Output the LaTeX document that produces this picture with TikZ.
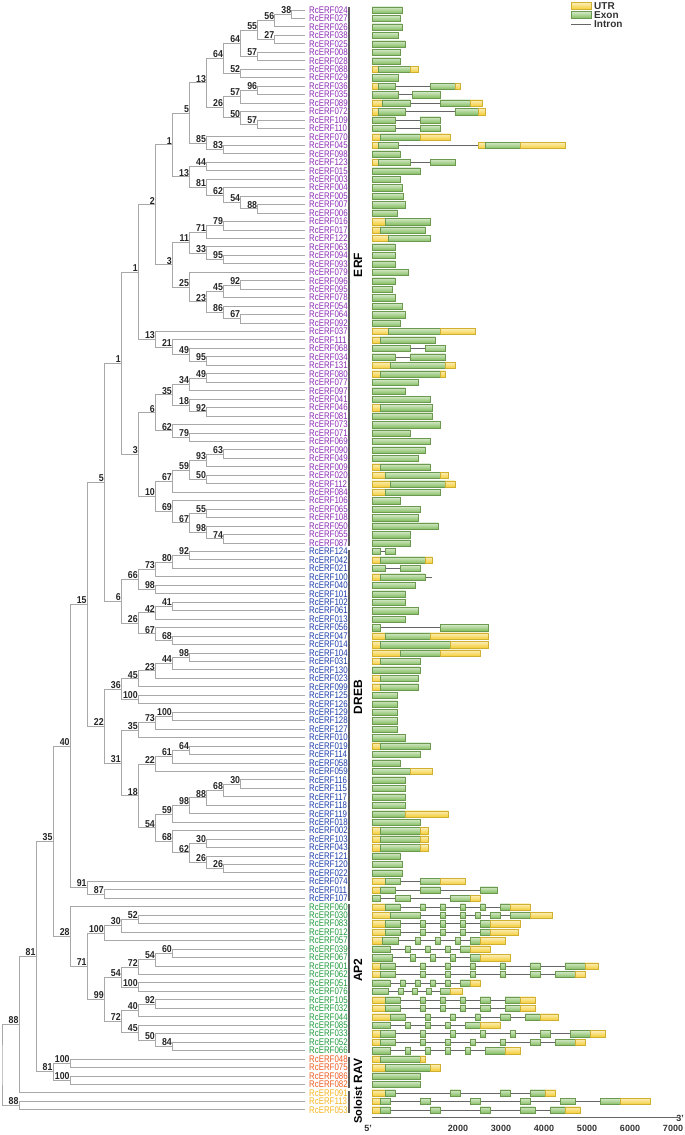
\documentclass[tikz,border=0pt]{standalone}
\usepackage{fontspec}
\setmainfont{Liberation Sans}
\usetikzlibrary{calc}

\definecolor{erfc}{HTML}{8B2BB5}
\definecolor{drebc}{HTML}{1C3DAA}
\definecolor{ap2c}{HTML}{1E9A3A}
\definecolor{ravc}{HTML}{EE5A1E}
\definecolor{solc}{HTML}{F5B41E}
\definecolor{brc}{HTML}{A8A8A8}
\definecolor{utrc}{HTML}{F5CF3A}
\definecolor{exonc}{HTML}{86BF63}

\newcommand\lf[3]{%
  \coordinate (a#1) at (305,{10+8.46*#1});
  \node[leaf,text=#3] (l#1) at (309,{10+8.46*#1}) {RcERF#2};}
\newcommand\tn[5]{%
  \coordinate (tmp) at ($(#3)!0.5!(#4)$);
  \coordinate (#1) at (tmp -| x#2);
  \draw[br] (#3) -| (#1) |- (#4);
  \node[bs] (b#1) at (#1) {#5};}
\newcommand\gn[3]{%
  \draw[intr] (372,{10+8.46*#1}) -- (#2,{10+8.46*#1});
  \foreach \t/\p/\q in {#3} {\path[\t] (\p,{10+8.46*#1-3.1}) rectangle (\q,{10+8.46*#1+3.1});}}

\begin{document}
\begin{tikzpicture}[x=1pt,y=-1pt,
  br/.style={draw=brc,line width=0.9pt},
  bs/.style={anchor=south east,inner sep=0.5pt,xscale=0.88,font=\fontsize{10}{10}\selectfont\bfseries,text=black!85},
  leaf/.style={anchor=west,inner sep=0pt,xscale=0.82,font=\fontsize{9.6}{9.6}\selectfont},
  clade/.style={rotate=90,inner sep=0pt,font=\fontsize{12}{12}\selectfont\bfseries},
  bar/.style={draw=black!65,line width=2.6pt},
  lg/.style={anchor=west,inner sep=0pt,font=\fontsize{10}{10}\selectfont\bfseries,text=black!80},
  ax/.style={inner sep=0pt,font=\fontsize{9}{9}\selectfont\bfseries,text=black!80},
  U/.style={top color=utrc!35,bottom color=utrc,draw=utrc!85!black,line width=0.2pt},
  E/.style={top color=exonc!35,bottom color=exonc,draw=exonc!80!black,line width=0.2pt},
  intr/.style={draw=black!60,line width=0.5pt}]
\useasboundingbox (0,0) rectangle (685,1135);

\foreach \k in {0,...,17} \coordinate (x\k) at ({2+17.05*\k},0);

\foreach \nm [count=\i from 0] in {024,027,026,038,025,008,028,088,029,036,035,089,072,109,110,070,045,098,123,015,003,004,005,007,006,016,017,122,063,094,093,079,096,095,078,054,064,092,037,111,068,034,131,080,077,097,041,046,081,073,071,069,090,049,009,020,112,084,106,065,108,050,055,087}
  {\lf{\i}{\nm}{erfc}}
\foreach \nm [count=\i from 64] in {124,042,021,100,040,101,102,061,013,056,047,014,104,031,130,023,099,125,126,129,128,127,010,019,114,058,059,116,115,117,118,119,018,002,103,043,121,120,022,074,011,107}
  {\lf{\i}{\nm}{drebc}}
\foreach \nm [count=\i from 106] in {060,030,083,012,057,039,067,001,062,051,076,105,032,044,085,033,052,066}
  {\lf{\i}{\nm}{ap2c}}
\foreach \nm [count=\i from 124] in {048,075,086,082}
  {\lf{\i}{\nm}{ravc}}
\foreach \nm [count=\i from 128] in {091,113,053}
  {\lf{\i}{\nm}{solc}}

\tn{n38}{17}{a0}{a1}{38}
\tn{n56}{16}{n38}{a2}{56}
\tn{n27}{16}{a3}{a4}{27}
\tn{n55}{15}{n56}{n27}{55}
\tn{n57a}{15}{a5}{a6}{57}
\tn{n64a}{14}{n55}{n57a}{64}
\tn{n52}{14}{a7}{a8}{52}
\tn{n64b}{13}{n64a}{n52}{64}
\tn{n96}{15}{a9}{a10}{96}
\tn{n57b}{14}{n96}{a11}{57}
\tn{n57c}{15}{a13}{a14}{57}
\tn{n50}{14}{a12}{n57c}{50}
\tn{n26}{13}{n57b}{n50}{26}
\tn{n13a}{12}{n64b}{n26}{13}
\tn{n83}{13}{a16}{a17}{83}
\tn{n85}{12}{a15}{n83}{85}
\tn{n5a}{11}{n13a}{n85}{5}
\tn{n44}{12}{a18}{a19}{44}
\tn{n88a}{15}{a23}{a24}{88}
\tn{n54a}{14}{a22}{n88a}{54}
\tn{n62a}{13}{a21}{n54a}{62}
\tn{n81a}{12}{a20}{n62a}{81}
\tn{n13b}{11}{n44}{n81a}{13}
\tn{n1a}{10}{n5a}{n13b}{1}
\tn{n79a}{13}{a25}{a26}{79}
\tn{n71}{12}{n79a}{a27}{71}
\tn{n95a}{13}{a29}{a30}{95}
\tn{n33}{12}{a28}{n95a}{33}
\tn{n11}{11}{n71}{n33}{11}
\tn{n92a}{14}{a32}{a33}{92}
\tn{n45a}{13}{n92a}{a34}{45}
\tn{n67a}{14}{a36}{a37}{67}
\tn{n86}{13}{a35}{n67a}{86}
\tn{n23a}{12}{n45a}{n86}{23}
\tn{n25}{11}{a31}{n23a}{25}
\tn{n3a}{10}{n11}{n25}{3}
\tn{n2}{9}{n1a}{n3a}{2}
\tn{n95b}{12}{a41}{a42}{95}
\tn{n49a}{11}{a40}{n95b}{49}
\tn{n21}{10}{a39}{n49a}{21}
\tn{n13c}{9}{a38}{n21}{13}
\tn{n1b}{8}{n2}{n13c}{1}
\tn{n49b}{12}{a43}{a44}{49}
\tn{n34}{11}{n49b}{a45}{34}
\tn{n92b}{12}{a47}{a48}{92}
\tn{n18a}{11}{a46}{n92b}{18}
\tn{n35a}{10}{n34}{n18a}{35}
\tn{n79b}{11}{a50}{a51}{79}
\tn{n62b}{10}{a49}{n79b}{62}
\tn{n6a}{9}{n35a}{n62b}{6}
\tn{n63}{13}{a52}{a53}{63}
\tn{n93}{12}{n63}{a54}{93}
\tn{n50b}{12}{a55}{a56}{50}
\tn{n59a}{11}{n93}{n50b}{59}
\tn{n67b}{10}{n59a}{a57}{67}
\tn{n55b}{12}{a59}{a60}{55}
\tn{n74}{13}{a62}{a63}{74}
\tn{n98a}{12}{a61}{n74}{98}
\tn{n67c}{11}{n55b}{n98a}{67}
\tn{n69}{10}{a58}{n67c}{69}
\tn{n10}{9}{n67b}{n69}{10}
\tn{n3b}{8}{n6a}{n10}{3}
\tn{n1c}{7}{n1b}{n3b}{1}

\tn{n92c}{11}{a64}{a65}{92}
\tn{n80}{10}{n92c}{a66}{80}
\tn{n73a}{9}{n80}{a67}{73}
\tn{n98b}{9}{a68}{a69}{98}
\tn{n66}{8}{n73a}{n98b}{66}
\tn{n41}{10}{a70}{a71}{41}
\tn{n42}{9}{n41}{a72}{42}
\tn{n68a}{10}{a74}{a75}{68}
\tn{n67d}{9}{a73}{n68a}{67}
\tn{n26b}{8}{n42}{n67d}{26}
\tn{n6b}{7}{n66}{n26b}{6}
\tn{n5}{6}{n1c}{n6b}{5}
\tn{n98c}{11}{a76}{a77}{98}
\tn{n44b}{10}{n98c}{a78}{44}
\tn{n23b}{9}{n44b}{a79}{23}
\tn{n45b}{8}{n23b}{a80}{45}
\tn{n100a}{8}{a81}{a82}{100}
\tn{n36}{7}{n45b}{n100a}{36}
\tn{n100b}{10}{a83}{a84}{100}
\tn{n73b}{9}{n100b}{a85}{73}
\tn{n35b}{8}{n73b}{a86}{35}
\tn{n64c}{11}{a87}{a88}{64}
\tn{n61}{10}{n64c}{a89}{61}
\tn{n22b}{9}{n61}{a90}{22}
\tn{n30a}{14}{a91}{a92}{30}
\tn{n68b}{13}{n30a}{a93}{68}
\tn{n88b}{12}{n68b}{a94}{88}
\tn{n98d}{11}{n88b}{a95}{98}
\tn{n59b}{10}{n98d}{a96}{59}
\tn{n30b}{12}{a98}{a99}{30}
\tn{n26c}{13}{a101}{a102}{26}
\tn{n26d}{12}{a100}{n26c}{26}
\tn{n62c}{11}{n30b}{n26d}{62}
\tn{n68c}{10}{a97}{n62c}{68}
\tn{n54b}{9}{n59b}{n68c}{54}
\tn{n18b}{8}{n22b}{n54b}{18}
\tn{n31}{7}{n35b}{n18b}{31}
\tn{n22a}{6}{n36}{n31}{22}
\tn{n15}{5}{n5}{n22a}{15}
\tn{n87}{6}{a104}{a105}{87}
\tn{n91}{5}{a103}{n87}{91}
\tn{n40}{4}{n15}{n91}{40}

\tn{n52b}{8}{a107}{a108}{52}
\tn{n30c}{7}{n52b}{a109}{30}
\tn{n100c}{6}{n30c}{a110}{100}
\tn{n60}{10}{a111}{a112}{60}
\tn{n54c}{9}{n60}{a113}{54}
\tn{n72a}{8}{n54c}{a114}{72}
\tn{n100d}{8}{a115}{a116}{100}
\tn{n54d}{7}{n72a}{n100d}{54}
\tn{n92d}{9}{a117}{a118}{92}
\tn{n40b}{8}{n92d}{a119}{40}
\tn{n84}{10}{a122}{a123}{84}
\tn{n50c}{9}{a121}{n84}{50}
\tn{n45c}{8}{a120}{n50c}{45}
\tn{n72b}{7}{n40b}{n45c}{72}
\tn{n99}{6}{n54d}{n72b}{99}
\tn{n71b}{5}{n100c}{n99}{71}
\tn{n28}{4}{a106}{n71b}{28}
\tn{n35c}{3}{n40}{n28}{35}
\tn{n100e}{4}{a124}{a125}{100}
\tn{n100f}{4}{a126}{a127}{100}
\tn{n81b}{3}{n100e}{n100f}{81}
\tn{n81c}{2}{n35c}{n81b}{81}
\tn{n88c}{1}{n81c}{a128}{88}
\tn{n88d}{1}{a129}{a130}{88}
\tn{n0}{0}{n88c}{n88d}{}

\draw[bar] (349,7) -- (349,546);
\draw[bar] (349,550) -- (349,901);
\draw[bar] (349,904) -- (349,1053);
\draw[bar] (349,1057) -- (349,1088);
\draw[bar] (349,1091) -- (349,1113);
\node[clade] (cerf) at (358,265) {ERF};
\node[clade] (cdreb) at (358,697) {DREB};
\node[clade] (cap2) at (358,970) {AP2};
\node[clade] (crav) at (358,1071) {RAV};
\node[clade,font=\fontsize{11}{11}\selectfont\bfseries] (csol) at (358,1105) {Soloist};

\foreach \i/\n in {0/402,1/400,2/402,3/398,4/405,5/400,6/400,8/398,17/400,19/420,20/400,21/402,22/403,23/405,24/397,28/395,29/395,30/395,31/408,32/395,33/392,34/395,35/402,36/405,37/400,44/418,45/405,46/430,48/432,49/440,50/410,51/430,52/425,53/418,58/400,59/420,60/418,61/438,62/410,63/410,68/415,69/405,70/405,71/418,72/405,78/420,81/397,82/397,83/397,84/397,85/397,86/405,88/420,89/400,91/405,92/405,93/405,94/405,96/420,100/400,101/402,102/402}
  {\gn{\i}{\n}{E/372/\n}}
\gn{7}{418}{U/372/378,E/378/410,U/410/418}
\gn{9}{460}{U/372/378,E/378/395,E/430/455,U/455/460}
\gn{10}{440}{E/372/398,E/412/440}
\gn{11}{482}{U/372/382,E/382/410,E/440/470,U/470/482}
\gn{12}{485}{U/372/378,E/378/405,E/455/478,U/478/485}
\gn{13}{440}{E/372/395,E/420/440}
\gn{14}{440}{E/372/395,E/420/440}
\gn{15}{450}{U/372/380,E/380/420,U/420/450}
\gn{16}{565}{U/372/378,E/378/398,U/478/485,E/485/520,U/520/565}
\gn{18}{455}{U/372/378,E/378/410,E/430/455}
\gn{25}{430}{U/372/385,E/385/430}
\gn{26}{425}{U/372/380,E/380/425}
\gn{27}{430}{U/372/388,E/388/430}
\gn{38}{475}{U/372/388,E/388/440,U/440/475}
\gn{39}{435}{U/372/380,E/380/435}
\gn{40}{445}{E/372/410,E/425/445}
\gn{41}{445}{E/372/395,E/410/445}
\gn{42}{455}{U/372/390,E/390/445,U/445/455}
\gn{43}{445}{U/372/380,E/380/440,U/440/445}
\gn{47}{432}{U/372/380,E/380/432}
\gn{54}{430}{U/372/380,E/380/430}
\gn{55}{448}{U/372/385,E/385/440,U/440/448}
\gn{56}{455}{U/372/390,E/390/445,U/445/455}
\gn{57}{440}{U/372/385,E/385/440}
\gn{64}{395}{E/372/380,E/385/395}
\gn{65}{432}{U/372/380,E/380/425,U/425/432}
\gn{66}{420}{E/372/385,E/400/420}
\gn{67}{432}{U/372/380,E/380/425}
\gn{73}{488}{E/372/380,E/440/488}
\gn{74}{488}{U/372/385,E/385/430,U/430/488}
\gn{75}{488}{U/372/380,E/380/450,U/450/488}
\gn{76}{480}{U/372/400,E/400/440,U/440/480}
\gn{77}{420}{U/372/380,E/380/420}
\gn{79}{418}{U/372/380,E/380/418}
\gn{80}{418}{U/372/380,E/380/418}
\gn{87}{430}{U/372/380,E/380/430}
\gn{90}{432}{E/372/410,U/410/432}
\gn{95}{448}{E/372/405,U/405/448}
\gn{97}{428}{U/372/380,E/380/420,U/420/428}
\gn{98}{428}{U/372/380,E/380/420,U/420/428}
\gn{99}{428}{U/372/380,E/380/420,U/420/428}
\gn{103}{465}{U/372/385,E/385/400,E/420/440,U/440/465}
\gn{104}{497}{U/372/380,E/380/395,E/420/440,E/480/497}
\gn{105}{480}{E/372/380,E/395/410,E/450/470,U/470/480}
\gn{106}{530}{U/372/385,E/385/400,E/420/425,E/440/445,E/460/465,E/480/485,E/500/510,U/510/530}
\gn{107}{552}{U/372/390,E/390/420,E/440/445,E/460/465,E/475/480,E/490/500,E/510/530,U/530/552}
\gn{108}{520}{U/372/385,E/385/400,E/420/425,E/440/445,E/460/465,E/480/490,U/490/520}
\gn{109}{518}{U/372/385,E/385/400,E/420/425,E/440/445,E/460/465,E/480/490,U/490/518}
\gn{110}{505}{U/372/382,E/382/398,E/415/420,E/435/440,E/455/460,E/470/480,U/480/505}
\gn{111}{490}{E/372/390,E/405/410,E/425/430,E/445/450,E/460/470,U/470/490}
\gn{112}{510}{E/372/392,E/410/415,E/430/435,E/450/455,E/470/480,U/480/510}
\gn{113}{598}{U/372/380,E/380/395,E/420/425,E/445/450,E/470/475,E/500/505,E/530/540,E/565/585,U/585/598}
\gn{114}{585}{U/372/380,E/380/395,E/420/425,E/445/450,E/470/475,E/500/505,E/530/540,E/555/575,U/575/585}
\gn{115}{480}{E/372/390,E/400/405,E/415/420,E/430/435,E/445/450,E/460/470,U/470/480}
\gn{116}{462}{E/372/388,E/398/403,E/412/417,E/426/431,E/440/450,U/450/462}
\gn{117}{535}{U/372/385,E/385/400,E/420/425,E/440/445,E/460/465,E/480/490,E/505/520,U/520/535}
\gn{118}{535}{U/372/385,E/385/400,E/420/425,E/440/445,E/460/465,E/480/490,E/505/520,U/520/535}
\gn{119}{558}{U/372/390,E/390/405,E/425/430,E/450/455,E/475/480,E/500/510,E/525/540,U/540/558}
\gn{120}{500}{E/372/390,E/405/410,E/425/430,E/445/450,E/465/480,U/480/500}
\gn{121}{605}{U/372/380,E/380/395,E/420/425,E/450/455,E/480/485,E/510/515,E/540/550,E/570/590,U/590/605}
\gn{122}{585}{U/372/380,E/380/395,E/420/425,E/445/450,E/470/475,E/500/505,E/530/540,E/555/575,U/575/585}
\gn{123}{520}{E/372/390,E/405/410,E/425/430,E/445/450,E/465/470,E/485/505,U/505/520}
\gn{124}{425}{U/372/380,E/380/420,U/420/425}
\gn{125}{440}{U/372/385,E/385/430,U/430/440}
\gn{126}{420}{E/372/420}
\gn{127}{420}{E/372/420}
\gn{128}{555}{U/372/385,E/385/395,E/450/460,E/500/510,E/530/545,U/545/555}
\gn{129}{650}{U/372/380,E/380/390,E/420/430,E/470/480,E/520/530,E/560/575,E/600/620,U/620/650}
\gn{130}{580}{U/372/380,E/380/390,E/430/440,E/480/490,E/520/535,E/550/565,U/565/580}

\path[U] (571,2.5) rectangle (591,9);
\node[lg] (lgu) at (594,5.8) {UTR};
\path[E] (571,11.5) rectangle (591,18);
\node[lg] (lge) at (594,14.8) {Exon};
\draw[intr] (571,24) -- (591,24);
\node[lg] (lgi) at (594,24) {Intron};

\draw[intr] (372,1117) -- (678,1117);
\node[ax] (p5) at (368,1128) {5'};
\node[ax] (p3) at (680,1118) {3'};
\foreach \k in {2,...,7} \node[ax] (t\k) at ({372+43*\k},1128) {\k000};
\end{tikzpicture}
\end{document}
